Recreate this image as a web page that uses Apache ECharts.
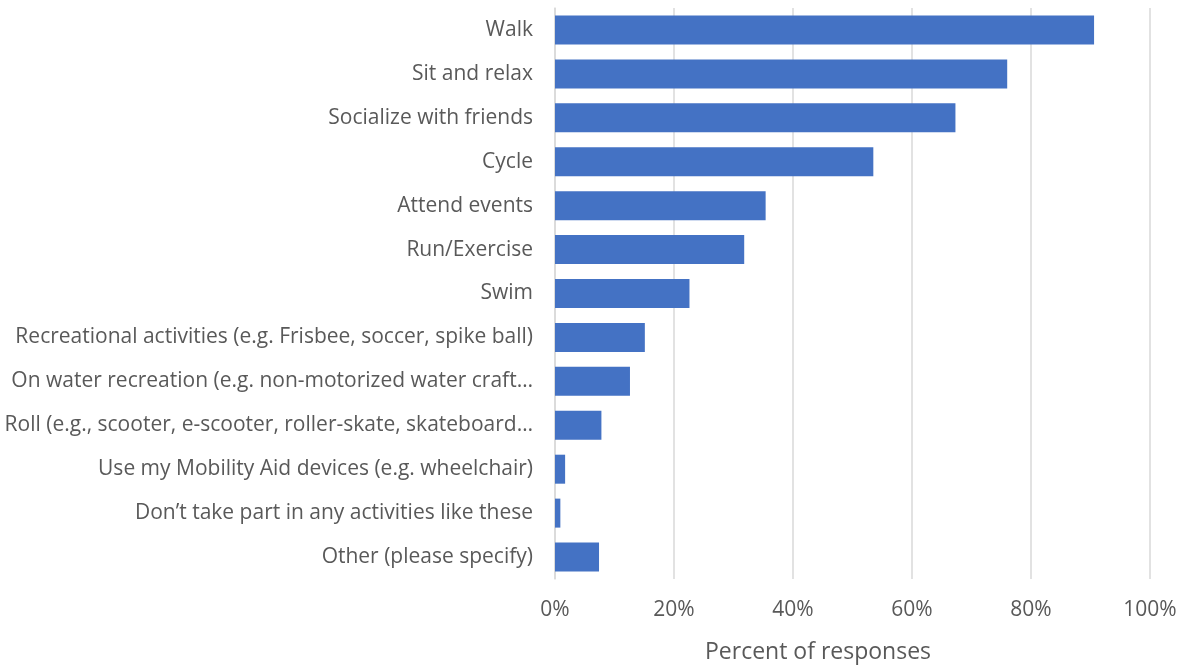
<!DOCTYPE html>
<html>
<head>
<meta charset="utf-8">
<script src="https://cdn.jsdelivr.net/npm/echarts@6/dist/echarts.min.js"></script>
<style>html,body{margin:0;padding:0;background:#fff;}#c{width:1183px;height:667px;}</style>
</head>
<body>
<div id="c"></div>
<script>
const categories = [
  "Walk",
  "Sit and relax",
  "Socialize with friends",
  "Cycle",
  "Attend events",
  "Run/Exercise",
  "Swim",
  "Recreational activities (e.g. Frisbee, soccer, spike ball)",
  "On water recreation (e.g. non-motorized water craft…",
  "Roll (e.g., scooter, e-scooter, roller-skate, skateboard…",
  "Use my Mobility Aid devices (e.g. wheelchair)",
  "Don’t take part in any activities like these",
  "Other (please specify)"
];
const values = [90.6, 76.0, 67.3, 53.5, 35.4, 31.8, 22.6, 15.1, 12.6, 7.8, 1.7, 0.9, 7.4];
const xTicks = [0, 20, 40, 60, 80, 100];
const axisTitle = "Percent of responses";

const chart = echarts.init(document.getElementById('c'));
const font = '"Open Sans", Lato, sans-serif';
chart.setOption({
  animation: false,
  grid: { left: 555, right: 33, top: 8, bottom: 88, containLabel: false },
  xAxis: {
    type: 'value',
    min: xTicks[0], max: xTicks[xTicks.length - 1], interval: 20,
    axisLine: { show: false },
    axisTick: { show: false },
    splitLine: { lineStyle: { color: '#d9d9d9', width: 1.5 } },
    axisLabel: { formatter: v => v + '%', color: '#595959', fontSize: 21, fontFamily: font, margin: 21 }
  },
  yAxis: {
    type: 'category',
    data: categories,
    inverse: true,
    axisLine: { show: true, lineStyle: { color: '#d9d9d9', width: 1.5 } },
    axisTick: { show: false },
    axisLabel: { color: '#595959', fontSize: 21, fontFamily: font, margin: 22, padding: [4, 0, 0, 0] }
  },
  title: {
    text: axisTitle,
    left: 700, top: 636,
    textStyle: { color: '#595959', fontSize: 23, fontWeight: 'normal', fontFamily: font }
  },
  series: [{
    type: 'bar',
    data: values,
    barCategoryGap: '34%',
    itemStyle: { color: '#4472c4' }
  }]
});
</script>
</body>
</html>
